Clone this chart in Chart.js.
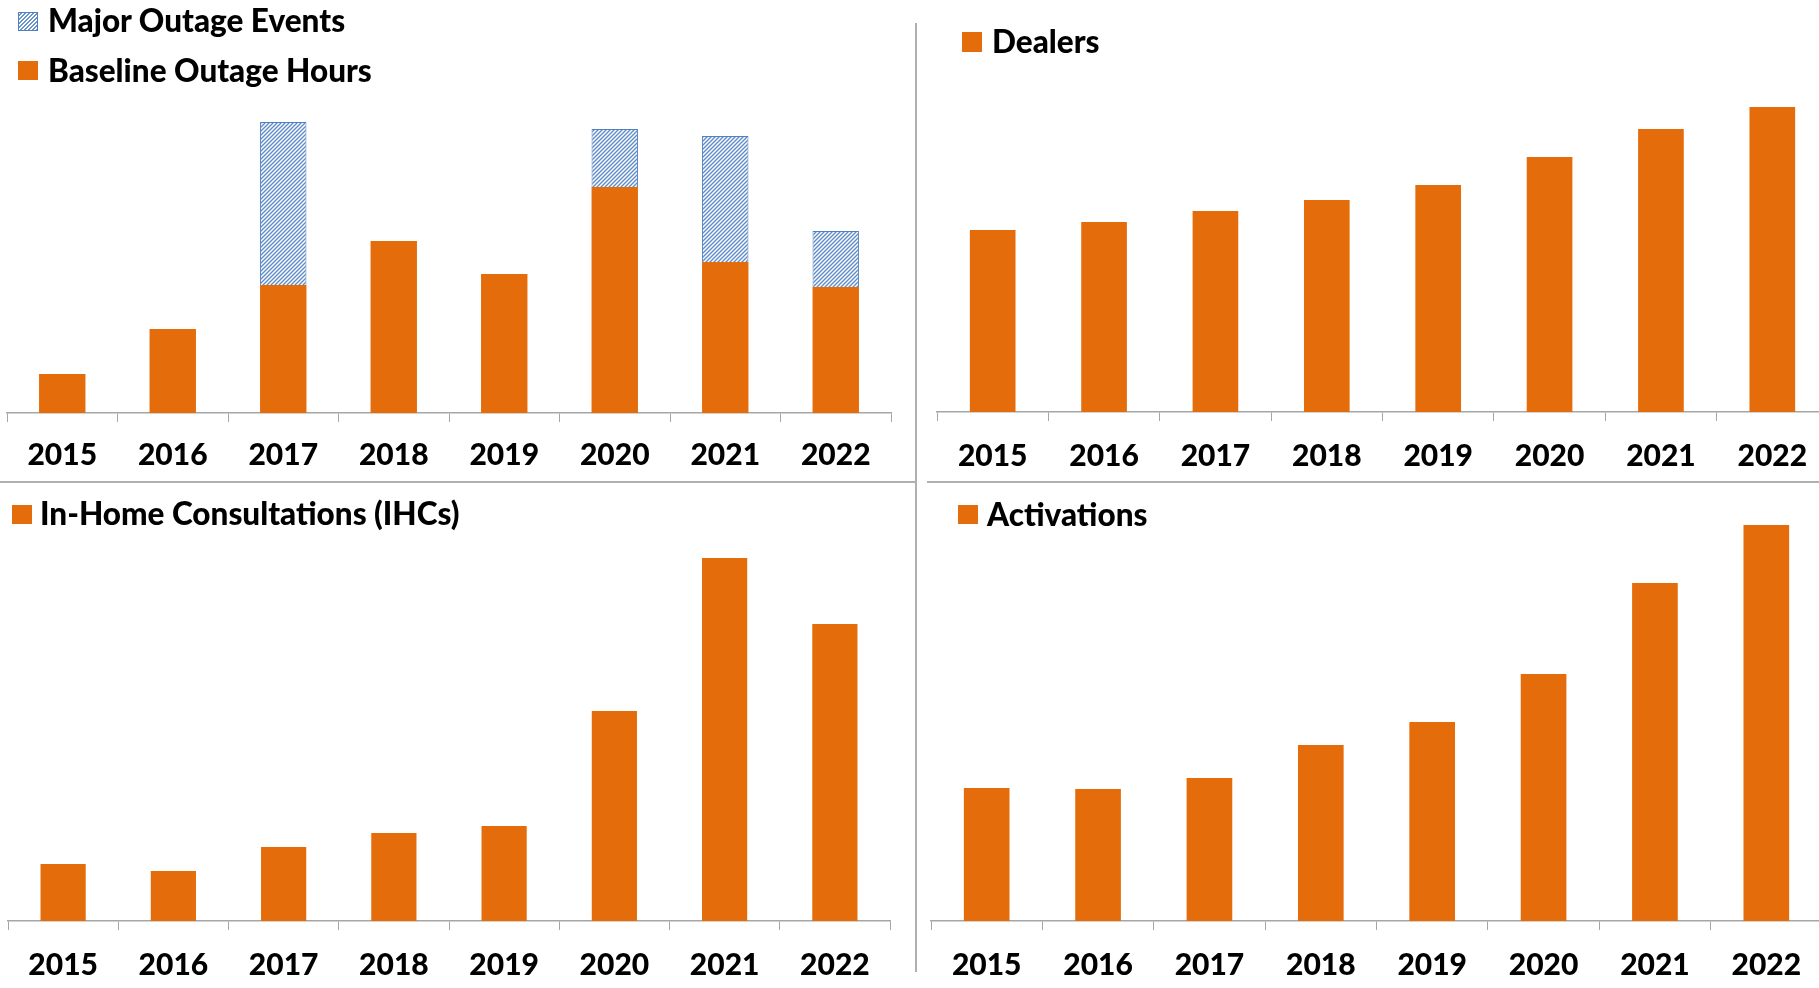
<!DOCTYPE html>
<html>
<head>
<meta charset="utf-8">
<script src="https://cdn.jsdelivr.net/npm/chart.js@4"></script>
<style>
  html, body { margin: 0; padding: 0; width: 1819px; height: 988px; overflow: hidden; background: #fff; }
  canvas { position: absolute; }
  .line { position: absolute; background: #b0b0b0; }
  .box { position: absolute; width: 20px; height: 19px; background: #e46c0a; }
  .hatch { box-sizing: border-box; border: 1px solid #4f81bd;
    background: repeating-linear-gradient(-45deg, #6a93cc 0 1.3px, #ffffff 1.3px 2.8px); }
  .txt { position: absolute; font: 900 31.5px Lato, sans-serif; line-height: 32px; color: #000; white-space: nowrap; }
</style>
</head>
<body>
<canvas id="outages" width="917" height="480" style="left:0;top:0"></canvas>
<canvas id="dealers" width="920" height="480" style="left:917px;top:0"></canvas>
<canvas id="ihcs" width="917" height="506" style="left:0;top:482px"></canvas>
<canvas id="activations" width="920" height="506" style="left:917px;top:482px"></canvas>

<div class="line" style="left:0;top:481px;width:916px;height:2px"></div>
<div class="line" style="left:927px;top:481px;width:892px;height:2px"></div>
<div class="line" style="left:915px;top:23px;width:2px;height:949px"></div>

<div class="box hatch" style="left:18px;top:12px"></div>
<div class="txt" style="left:48px;top:4px">Major Outage Events</div>
<div class="box" style="left:18px;top:61px"></div>
<div class="txt" style="left:48px;top:54px">Baseline Outage Hours</div>

<div class="box" style="left:962px;top:32px;height:20px"></div>
<div class="txt" style="left:992px;top:25px">Dealers</div>

<div class="box" style="left:12px;top:505px"></div>
<div class="txt" style="left:40px;top:497px">In-Home Consultations (IHCs)</div>

<div class="box" style="left:958px;top:505px"></div>
<div class="txt" style="left:987px;top:498px">Activations</div>

<script>
const years = ['2015', '2016', '2017', '2018', '2019', '2020', '2021', '2022'];

// values (no axis in the source, relative units)
const baselineOutage = [39, 84, 128, 172, 139, 226, 151, 126];
const majorOutage = [null, null, 163, null, null, 58, 126, 56];
const dealers = [182, 190, 201, 212, 227, 255, 283, 305];
const ihcs = [57, 50, 74, 88, 95, 210, 363, 297];
const activations = [133, 132, 143, 176, 199, 247, 338, 396];

const orange = '#e46c0a';
const axisGrey = '#a6a6a6';

function hatchPattern(ctx) {
    const tile = document.createElement('canvas');
    tile.width = 4;
    tile.height = 4;
    const g = tile.getContext('2d');
    g.fillStyle = '#ffffff';
    g.fillRect(0, 0, 4, 4);
    g.strokeStyle = '#5f8cc8';
    g.lineWidth = 1.4;
    g.beginPath();
    g.moveTo(0, 4); g.lineTo(4, 0);
    g.moveTo(-1, 1); g.lineTo(1, -1);
    g.moveTo(3, 5); g.lineTo(5, 3);
    g.stroke();
    return ctx.createPattern(tile, 'repeat');
}

function xAxis(height, pad) {
    return {
        stacked: true,
        grid: {
            offset: true,
            drawOnChartArea: false,
            drawTicks: true,
            tickLength: 9,
            color: axisGrey,
            lineWidth: 1
        },
        border: { display: true, color: axisGrey, width: 1.5 },
        ticks: {
            color: '#000',
            padding: pad,
            font: { family: 'Lato', weight: '900', size: 30 },
            maxRotation: 0,
            autoSkip: false
        },
        afterFit: (scale) => { scale.height = height; }
    };
}

function makeChart(id, datasets, max, padding, axisHeight, catPct, tickPad) {
    datasets.forEach(d => {
        d.categoryPercentage = catPct;
        d.barPercentage = 1;
    });
    return new Chart(document.getElementById(id), {
        type: 'bar',
        data: { labels: years, datasets: datasets },
        options: {
            responsive: false,
            animation: false,
            devicePixelRatio: 1,
            layout: { padding: padding },
            plugins: { legend: { display: false }, tooltip: { enabled: false } },
            scales: {
                x: xAxis(axisHeight, tickPad),
                y: { display: false, stacked: true, min: 0, max: max }
            }
        }
    });
}

const outCtx = document.getElementById('outages').getContext('2d');

makeChart('outages', [
    { label: 'Baseline Outage Hours', data: baselineOutage, backgroundColor: orange, borderWidth: 0 },
    { label: 'Major Outage Events', data: majorOutage, backgroundColor: hatchPattern(outCtx),
      borderColor: '#4f81bd', borderWidth: 1 }
], 300, { left: 7, right: 26, top: 113, bottom: 0 }, 67, 0.42, 15);

makeChart('dealers', [
    { label: 'Dealers', data: dealers, backgroundColor: orange, borderWidth: 0 }
], 320, { left: 20, right: 9, top: 92, bottom: 0 }, 68, 0.41, 17);

makeChart('ihcs', [
    { label: 'In-Home Consultations (IHCs)', data: ihcs, backgroundColor: orange, borderWidth: 0 }
], 400, { left: 8, right: 27, top: 39, bottom: 0 }, 67, 0.41, 17);

makeChart('activations', [
    { label: 'Activations', data: activations, backgroundColor: orange, borderWidth: 0 }
], 400, { left: 14, right: 15, top: 39, bottom: 0 }, 67, 0.41, 17);
</script>
</body>
</html>
